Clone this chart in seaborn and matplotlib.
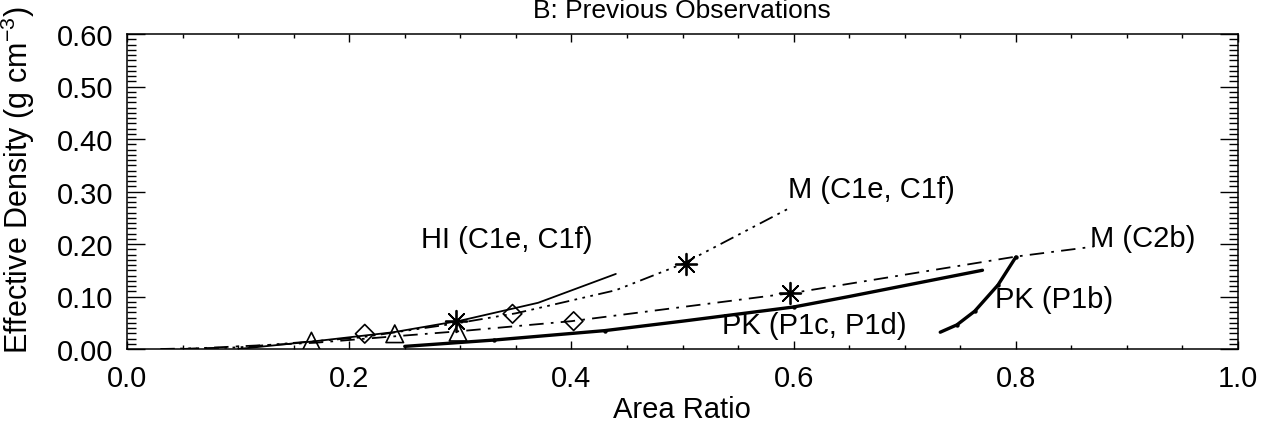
import numpy as np
import pandas as pd
import matplotlib
matplotlib.use("Agg")
import matplotlib.pyplot as plt
from matplotlib.ticker import MultipleLocator
import seaborn as sns

# ---------------- data ----------------
hi_x = [0.10, 0.17, 0.24, 0.30, 0.37, 0.44]
hi_y = [0.000, 0.015, 0.032, 0.054, 0.088, 0.143]

m1_x = [0.03, 0.10, 0.21, 0.30, 0.35, 0.44, 0.50, 0.595]
m1_y = [0.000, 0.003, 0.022, 0.050, 0.068, 0.112, 0.162, 0.267]

m2_x = [0.05, 0.17, 0.24, 0.30, 0.40, 0.60, 0.80, 0.87]
m2_y = [0.000, 0.012, 0.024, 0.034, 0.053, 0.107, 0.176, 0.195]

pk1_x = [0.25, 0.33, 0.43, 0.50, 0.60, 0.65, 0.77]
pk1_y = [0.005, 0.017, 0.035, 0.053, 0.080, 0.100, 0.150]

pk2_x = [0.732, 0.747, 0.763, 0.784, 0.800]
pk2_y = [0.032, 0.046, 0.072, 0.122, 0.175]

tri_x = [0.166, 0.241, 0.298]
tri_y = [0.015, 0.029, 0.032]
dia_x = [0.214, 0.347, 0.402]
dia_y = [0.029, 0.067, 0.053]
ast_x = [0.296, 0.503, 0.597]
ast_y = [0.053, 0.162, 0.107]
dot_x = [0.33, 0.43, 0.60, 0.747, 0.763, 0.784, 0.800]
dot_y = [0.017, 0.035, 0.080, 0.046, 0.072, 0.122, 0.175]

labels = ["HI (C1e, C1f)", "M (C1e, C1f)", "M (C2b)", "PK (P1c, P1d)", "PK (P1b)"]
label_x = [0.265, 0.595, 0.867, 0.536, 0.781]
label_y = [0.210, 0.305, 0.212, 0.046, 0.095]

xticks = [0.0, 0.2, 0.4, 0.6, 0.8, 1.0]
yticks = [0.0, 0.1, 0.2, 0.3, 0.4, 0.5, 0.6]
title = "B: Previous Observations"
xlabel = "Area Ratio"
ylabel = "Effective Density (g cm$^{-3}$)"

# ---------------- style ----------------
sns.set_theme(style="ticks")
FONT = "Liberation Sans"
plt.rcParams["font.family"] = [FONT, "DejaVu Sans"]
plt.rcParams["mathtext.fontset"] = "custom"
plt.rcParams["mathtext.rm"] = FONT
plt.rcParams["mathtext.it"] = FONT
plt.rcParams["mathtext.bf"] = FONT
for k in ["text.color", "axes.labelcolor", "xtick.color", "ytick.color", "axes.edgecolor"]:
    plt.rcParams[k] = "black"
FS = 21

fig = plt.figure(figsize=(12.68, 4.27), dpi=100)
ax = fig.add_axes([127 / 1268, 77 / 427, 1111 / 1268, 315 / 427])

def line(x, y, lw, ls):
    df = pd.DataFrame({"x": x, "y": y})
    sns.lineplot(data=df, x="x", y="y", ax=ax, color="black", lw=lw,
                 linestyle=ls, sort=False, estimator=None)

line(hi_x, hi_y, 1.3, "-")
line(m1_x, m1_y, 1.3, (0, (8, 3, 1.5, 3, 1.5, 3, 1.5, 3)))
line(m2_x, m2_y, 1.3, (0, (8, 4, 1.5, 4)))
line(pk1_x, pk1_y, 2.4, "-")
line(pk2_x, pk2_y, 2.4, "-")

sns.scatterplot(x=tri_x, y=tri_y, ax=ax, marker="^", s=160,
                facecolors="none", edgecolor="black", linewidth=1.2)
sns.scatterplot(x=dia_x, y=dia_y, ax=ax, marker="D", s=90,
                facecolors="none", edgecolor="black", linewidth=1.2)
sns.scatterplot(x=ast_x, y=ast_y, ax=ax, marker=(8, 2, 0), s=240,
                color="black", linewidth=1.3)
sns.scatterplot(x=dot_x, y=dot_y, ax=ax, marker="o", s=10,
                color="black", linewidth=0)

for t, lx, ly in zip(labels, label_x, label_y):
    ax.text(lx, ly, t, fontsize=FS, ha="left", va="center", color="black")

ax.set_xlim(0, 1.0)
ax.set_ylim(0, 0.6)
ax.set_xticks(xticks)
ax.set_xticklabels([f"{v:.1f}" for v in xticks])
ax.set_yticks(yticks)
ax.set_yticklabels([f"{v:.2f}" for v in yticks])
ax.xaxis.set_minor_locator(MultipleLocator(0.05))
ax.yaxis.set_minor_locator(MultipleLocator(0.01))
ax.tick_params(axis="x", which="major", direction="in", length=6, width=1,
               top=True, bottom=True, labelsize=FS, pad=11)
ax.tick_params(axis="x", which="minor", direction="in", length=3, width=1,
               top=True, bottom=True)
ax.tick_params(axis="y", which="major", direction="in", length=13, width=1,
               left=True, right=True, labelsize=FS, pad=10)
ax.tick_params(axis="y", which="minor", direction="in", length=6.5, width=1,
               left=True, right=True)
for sp in ax.spines.values():
    sp.set_visible(True)
    sp.set_linewidth(1.1)
    sp.set_color("black")
ax.set_xlabel("")
ax.set_ylabel("")

fig.text(682 / 1268, 1 - 410 / 427, xlabel, fontsize=FS, ha="center", va="center")
fig.text(18 / 1268, 1 - 180 / 427, ylabel, fontsize=FS + 1, ha="center", va="center",
         rotation=90)
fig.text(682 / 1268, 1 - 11 / 427, title, fontsize=FS - 2, ha="center", va="center")

fig.savefig("out.png", dpi=100, facecolor="white")
